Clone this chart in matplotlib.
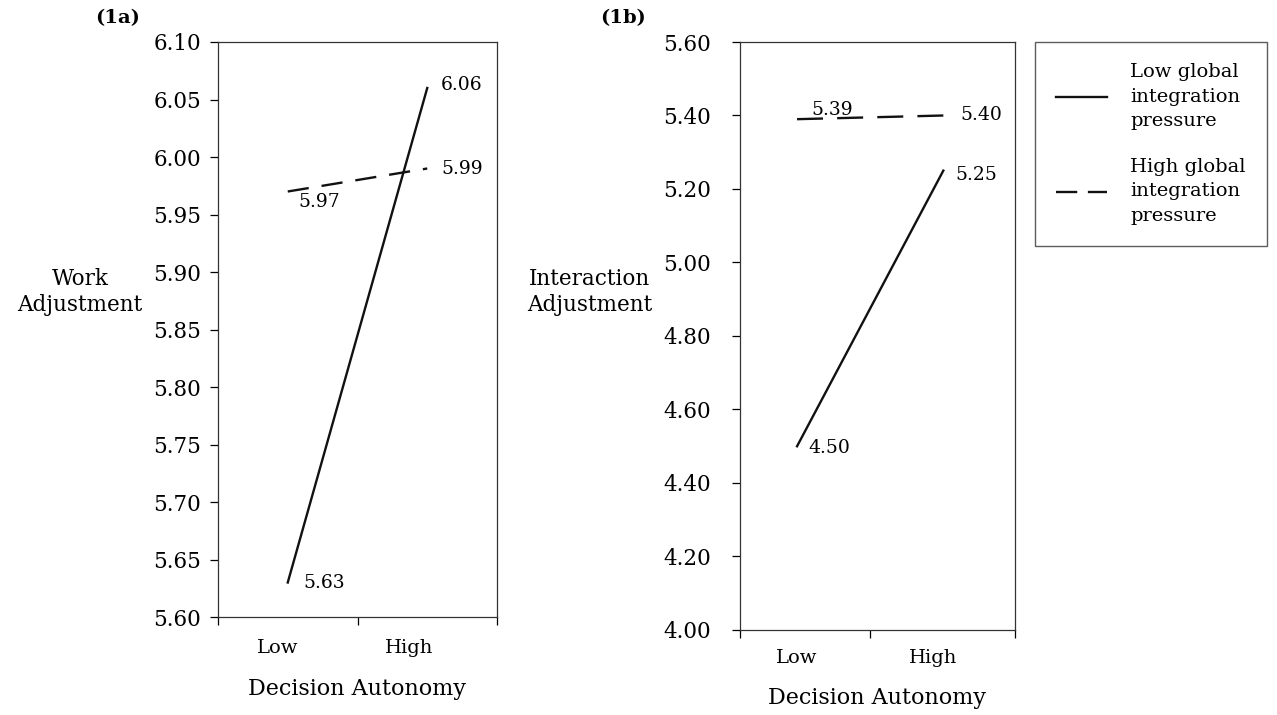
import matplotlib.pyplot as plt
from matplotlib.lines import Line2D

plt.rcParams['font.family'] = ['DejaVu Serif']

# Данные
categories = ['Low', 'High']
work_low_pressure = [5.63, 6.06]
work_high_pressure = [5.97, 5.99]
inter_low_pressure = [4.50, 5.25]
inter_high_pressure = [5.39, 5.40]
legend_labels = ['Low global\nintegration\npressure', 'High global\nintegration\npressure']

W, H = 1277, 715
fig = plt.figure(figsize=(W / 100, H / 100), dpi=100)

dash = (9.0, 5.5)
lw = 1.7
c = '#111111'


def setup(ax, ylim, yticks, xlim, label_pos, ylabel, ylabel_x, panel, panel_x, pads):
    ax.set_xlim(*xlim)
    ax.set_ylim(*ylim)
    ax.set_yticks(yticks)
    ax.set_yticklabels(['%.2f' % v for v in yticks], fontsize=15.5)
    # основные деления по краям и в середине, подписи на малых делениях
    ax.set_xticks([xlim[0], 0.5, xlim[1]])
    ax.set_xticklabels(['', '', ''])
    ax.set_xticks(label_pos, minor=True)
    ax.set_xticklabels(categories, minor=True, fontsize=14)
    ax.tick_params(axis='x', which='minor', length=0, pad=pads[0])
    ax.tick_params(axis='x', which='major', length=6, width=0.9, direction='out')
    ax.tick_params(axis='y', length=6, width=0.9, direction='out', pad=pads[2])
    for s in ax.spines.values():
        s.set_linewidth(0.9)
        s.set_color('#333333')
    ax.set_xlabel('Decision Autonomy', fontsize=16, labelpad=pads[1])
    fig.text(ylabel_x, 1 - 292 / H, ylabel, fontsize=15.5, ha='center', va='center',
             linespacing=1.25)
    fig.text(panel_x, 1 - 18 / H, panel, fontsize=14, fontweight='bold', ha='left', va='center')


x = [0, 1]

# (1a)
ax1 = fig.add_axes([218 / W, 1 - 617 / H, 279 / W, 575 / H])
ax1.plot(x, work_low_pressure, color=c, lw=lw)
ax1.plot(x, work_high_pressure, color=c, lw=lw, linestyle=(0, dash))
setup(ax1, (5.60, 6.10), [5.60 + 0.05 * i for i in range(11)],
      (-0.5, 1.5), [-0.07, 0.87], 'Work\nAdjustment', 80 / W, '(1a)', 95 / W, (16, 15, 6))
ax1.annotate('%.2f' % work_low_pressure[0], (0, work_low_pressure[0]), xytext=(11, 0),
             textcoords='offset points', fontsize=13.5, va='center')
ax1.annotate('%.2f' % work_low_pressure[1], (1, work_low_pressure[1]), xytext=(10, 2),
             textcoords='offset points', fontsize=13.5, va='center')
ax1.annotate('%.2f' % work_high_pressure[0], (0, work_high_pressure[0]), xytext=(8, -1),
             textcoords='offset points', fontsize=13.5, va='top')
ax1.annotate('%.2f' % work_high_pressure[1], (1, work_high_pressure[1]), xytext=(10, 0),
             textcoords='offset points', fontsize=13.5, va='center')

# (1b)
ax2 = fig.add_axes([740 / W, 1 - 630 / H, 275 / W, 588 / H])
ax2.plot(x, inter_low_pressure, color=c, lw=lw)
ax2.plot(x, inter_high_pressure, color=c, lw=lw, linestyle=(0, (11.0, 6.0)))
setup(ax2, (4.00, 5.60), [4.00 + 0.2 * i for i in range(9)],
      (-0.39, 1.49), [0.0, 0.93], 'Interaction\nAdjustment', 590 / W, '(1b)', 600 / W,
      (14, 14, 15))
ax2.annotate('%.2f' % inter_low_pressure[0], (0, inter_low_pressure[0]), xytext=(8, -1),
             textcoords='offset points', fontsize=13.5, va='center')
ax2.annotate('%.2f' % inter_low_pressure[1], (1, inter_low_pressure[1]), xytext=(9, -3),
             textcoords='offset points', fontsize=13.5, va='center')
ax2.annotate('%.2f' % inter_high_pressure[0], (0, inter_high_pressure[0]), xytext=(10, 0),
             textcoords='offset points', fontsize=13.5, va='bottom')
ax2.annotate('%.2f' % inter_high_pressure[1], (1, inter_high_pressure[1]), xytext=(12, 0),
             textcoords='offset points', fontsize=13.5, va='center')

handles = [Line2D([], [], color=c, lw=lw),
           Line2D([], [], color=c, lw=lw, linestyle=(0, (9.0, 4.5)))]
leg = fig.legend(handles, legend_labels, loc='upper left',
                 bbox_to_anchor=(1035 / W, 1 - 42 / H), fontsize=14,
                 frameon=True, fancybox=False, edgecolor='#333333',
                 handlelength=2.6, handletextpad=1.2, borderpad=1.1,
                 labelspacing=1.45, borderaxespad=0)
leg.get_frame().set_linewidth(1.0)
for t in leg.get_texts():
    t.set_linespacing(1.45)

fig.savefig('out.png', dpi=100)
